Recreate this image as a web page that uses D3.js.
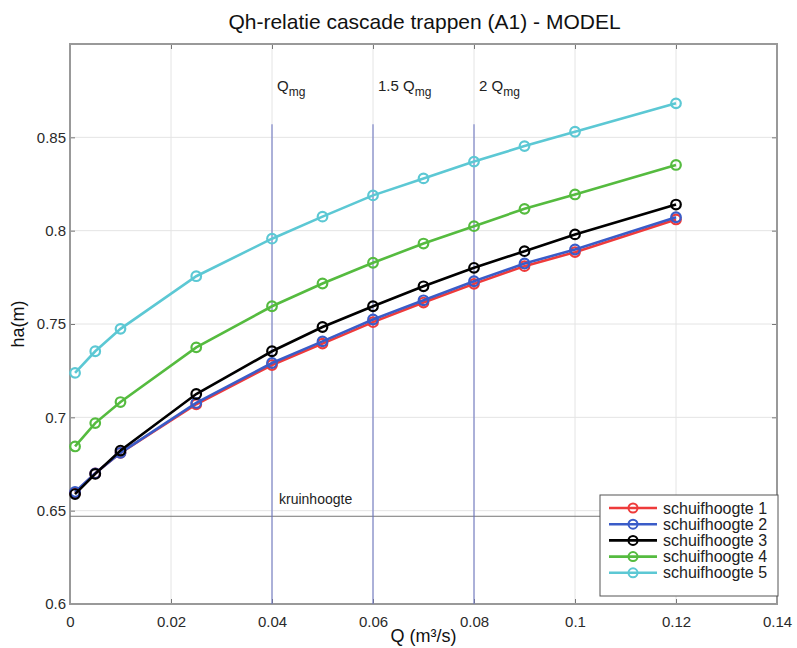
<!DOCTYPE html>
<html>
<head>
<meta charset="utf-8">
<script src="https://cdn.jsdelivr.net/npm/d3@7"></script>
<style>
  body { margin: 0; background: #fff; }
  text { font-family: "Liberation Sans", Arial, sans-serif; }
</style>
</head>
<body>
<svg id="chart" width="797" height="648"></svg>
<script>
const qValues = [0.001, 0.005, 0.01, 0.025, 0.04, 0.05, 0.06, 0.07, 0.08, 0.09, 0.1, 0.12]
const schuif1 = [0.6595, 0.670, 0.681, 0.707, 0.728, 0.7395, 0.751, 0.7615, 0.7715, 0.781, 0.7885, 0.806]
const schuif2 = [0.660, 0.670, 0.681, 0.7077, 0.7291, 0.7407, 0.7524, 0.7627, 0.7729, 0.7824, 0.7899, 0.8072]
const schuif3 = [0.6589, 0.6697, 0.6822, 0.7125, 0.7354, 0.7484, 0.7595, 0.7702, 0.7801, 0.789, 0.798, 0.814]
const schuif4 = [0.6844, 0.6969, 0.7082, 0.7375, 0.7595, 0.7717, 0.7828, 0.7931, 0.8024, 0.8117, 0.8194, 0.8352]
const schuif5 = [0.7238, 0.7354, 0.7474, 0.7756, 0.7957, 0.8075, 0.8189, 0.828, 0.837, 0.8453, 0.853, 0.8682]
const seriesNames = ['schuifhoogte 1', 'schuifhoogte 2', 'schuifhoogte 3', 'schuifhoogte 4', 'schuifhoogte 5']
const seriesColors = ['#ee3b3b', '#3a5cc8', '#000000', '#55bb3f', '#5cc8d4']
const xTicks = [0, 0.02, 0.04, 0.06, 0.08, 0.1, 0.12, 0.14]
const yTicks = [0.6, 0.65, 0.7, 0.75, 0.8, 0.85]
const qmgLines = [0.04, 0.06, 0.08]
const qmgLabels = ['', '1.5 ', '2 ']
const kruinhoogte = 0.647

const allSeries = [schuif1, schuif2, schuif3, schuif4, schuif5]
const margin = { left: 70, top: 44, right: 20, bottom: 44 }
const width = 797 - margin.left - margin.right
const height = 648 - margin.top - margin.bottom

const svg = d3.select('#chart')
const g = svg.append('g')
    .attr('transform', 'translate(' + margin.left + ',' + margin.top + ')')

let x = d3.scaleLinear().domain([0, 0.14]).range([0, width])
let y = d3.scaleLinear().domain([0.6, 0.9]).range([height, 0])

// grid
g.append('g').selectAll('line')
    .data(xTicks.slice(1, -1))
    .enter().append('line')
    .attr('x1', d => x(d)).attr('x2', d => x(d))
    .attr('y1', 0).attr('y2', height)
    .style('stroke', '#e4e4e4').style('stroke-width', 1)

g.append('g').selectAll('line')
    .data(yTicks.slice(1))
    .enter().append('line')
    .attr('x1', 0).attr('x2', width)
    .attr('y1', d => y(d)).attr('y2', d => y(d))
    .style('stroke', '#e4e4e4').style('stroke-width', 1)

// axes
let xAxis = g.append('g')
    .attr('transform', 'translate(0,' + height + ')')
    .call(d3.axisBottom(x).tickValues(xTicks).tickSize(-5).tickPadding(12)
        .tickFormat(d => d3.format('~g')(d)))
let xAxisTop = g.append('g')
    .call(d3.axisTop(x).tickValues(xTicks).tickSize(-5).tickFormat(''))
let yAxis = g.append('g')
    .call(d3.axisLeft(y).tickValues(yTicks).tickSize(-5).tickPadding(4)
        .tickFormat(d => d3.format('~g')(d)))
let yAxisRight = g.append('g')
    .attr('transform', 'translate(' + width + ',0)')
    .call(d3.axisRight(y).tickValues(yTicks).tickSize(-5).tickFormat(''))

;[xAxis, xAxisTop, yAxis, yAxisRight].forEach(a => {
    a.select('.domain').remove()
    a.selectAll('.tick line').style('stroke', '#777')
    a.selectAll('text').style('font-size', '15px').attr('fill', '#2a2a2a')
})

g.append('rect')
    .attr('width', width).attr('height', height)
    .style('fill', 'none').style('stroke', '#999').style('stroke-width', 2)

// kruinhoogte
g.append('line')
    .attr('x1', 0).attr('x2', width)
    .attr('y1', y(kruinhoogte)).attr('y2', y(kruinhoogte))
    .style('stroke', '#777').style('stroke-width', 1)
g.append('text')
    .attr('x', x(0.04) + 7).attr('y', y(kruinhoogte) - 12)
    .style('font-size', '14px').attr('fill', '#222')
    .text('kruinhoogte')

// Qmg lines
g.append('g').selectAll('line')
    .data(qmgLines)
    .enter().append('line')
    .attr('x1', d => x(d)).attr('x2', d => x(d))
    .attr('y1', y(0.857)).attr('y2', height)
    .style('stroke', '#6670c0').style('stroke-width', 1)

let qLab = g.append('g').selectAll('text')
    .data(qmgLines)
    .enter().append('text')
    .attr('x', d => x(d) + 5).attr('y', 47)
    .style('font-size', '15px').attr('fill', '#222')
qLab.append('tspan').text((d, i) => qmgLabels[i] + 'Q')
qLab.append('tspan').attr('dy', 5).style('font-size', '12px').text('mg')

// series
let line = d3.line()
    .x((d, i) => x(qValues[i]))
    .y(d => y(d))

let sg = g.append('g').selectAll('g')
    .data(allSeries)
    .enter().append('g')

sg.append('path')
    .attr('d', d => line(d))
    .style('fill', 'none')
    .style('stroke', (d, i) => seriesColors[i])
    .style('stroke-width', 2.6)

sg.each(function (s, si) {
    d3.select(this).selectAll('circle')
        .data(s)
        .enter().append('circle')
        .attr('cx', (d, i) => x(qValues[i]))
        .attr('cy', d => y(d))
        .attr('r', 4.8)
        .style('fill', 'none')
        .style('stroke', seriesColors[si])
        .style('stroke-width', 2.2)
})

// legend
let legend = g.append('g')
    .attr('transform', 'translate(' + (530) + ',' + (451) + ')')
legend.append('rect')
    .attr('width', 178).attr('height', 101)
    .style('fill', '#fff').style('stroke', '#555').style('stroke-width', 1)

let items = legend.selectAll('.item')
    .data(seriesNames)
    .enter().append('g')
    .attr('transform', (d, i) => 'translate(0,' + (13 + i * 16.2) + ')')
items.append('line')
    .attr('x1', 9).attr('x2', 57)
    .style('stroke', (d, i) => seriesColors[i]).style('stroke-width', 2.6)
items.append('circle')
    .attr('cx', 33).attr('r', 4.5)
    .style('fill', 'none').style('stroke-width', 2)
    .style('stroke', (d, i) => seriesColors[i])
items.append('text')
    .attr('x', 63).attr('y', 5.5)
    .style('font-size', '16px').attr('fill', '#222')
    .text(d => d)

// titles
svg.append('text')
    .attr('x', margin.left + width / 2 + 1).attr('y', 29)
    .attr('text-anchor', 'middle')
    .style('font-size', '21px').attr('fill', '#111')
    .text('Qh-relatie cascade trappen (A1) - MODEL')

svg.append('text')
    .attr('x', margin.left + width / 2).attr('y', 642)
    .attr('text-anchor', 'middle')
    .style('font-size', '18px').attr('fill', '#111')
    .text('Q (m³/s)')

svg.append('text')
    .attr('transform', 'translate(24,' + (margin.top + height / 2) + ') rotate(-90)')
    .attr('text-anchor', 'middle')
    .style('font-size', '18px').attr('fill', '#111')
    .text('ha(m)')
</script>
</body>
</html>
